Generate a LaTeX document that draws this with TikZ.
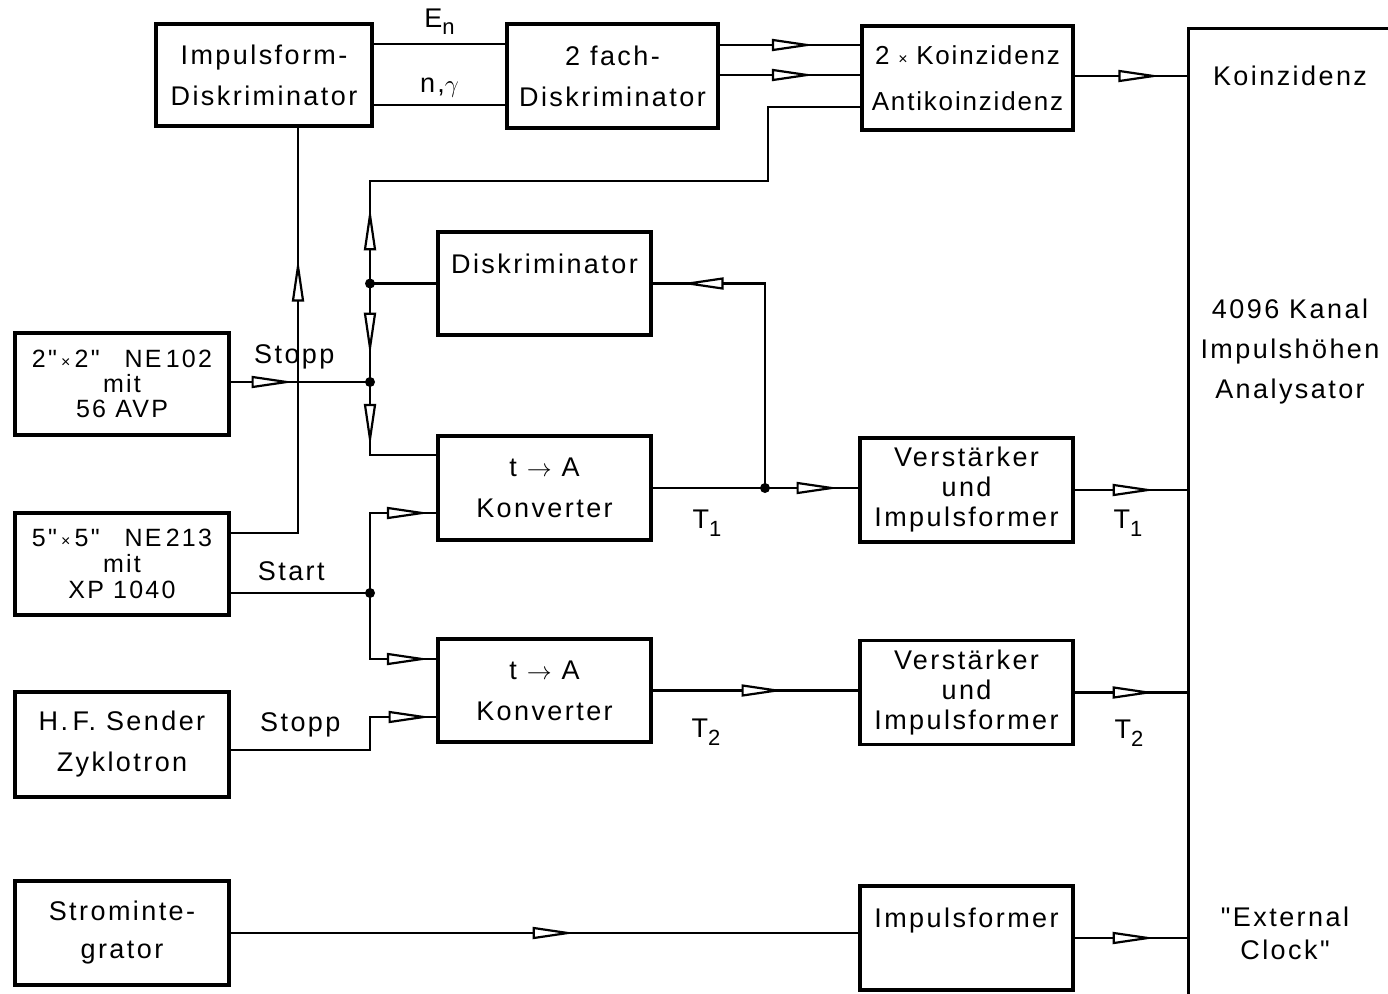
\documentclass[tikz,border=0pt]{standalone}
\usepackage{fontspec}
\setmainfont{Liberation Sans}[LetterSpace=9, Ligatures=TeXOff]
\usetikzlibrary{decorations.markings}
\begin{document}
\begin{tikzpicture}[x=1pt,y=-1pt,
  box/.style={draw, line width=3.2pt, inner sep=0pt, align=center, minimum width=213pt, minimum height=104pt},
  conn/.style={line width=2.2pt},
  lbl/.style={inner sep=0pt},
  midarr/.style={postaction={decorate}, decoration={markings, mark=at position #1 with {\draw[line width=2.2pt, fill=white, line join=miter] (-17pt,-5pt) -- (17pt,0pt) -- (-17pt,5pt) -- cycle;}}},
  font=\fontsize{27}{41}\selectfont]
\useasboundingbox (0,0) rectangle (1388,993);

% boxes
\node[box, minimum width=216pt, minimum height=102pt] (ipd) at (264,75) {Impulsform-\\Diskriminator};
\node[box, minimum width=211pt] (zfd) at (612.5,76) {2 fach-\\Diskriminator};
\node[box, minimum width=211pt, font=\fontsize{26}{46}\selectfont\addfontfeature{LetterSpace=7}] (koin) at (967.5,78) {2\,\,{\fontsize{16}{16}\selectfont ×}\,\,Koinzidenz\\Antikoinzidenz};
\node[box, minimum height=103pt] (disk) at (544.5,283.5) {\smash{\raisebox{10pt}{Diskriminator}}};
\node[box, minimum width=214pt, minimum height=102pt, font=\fontsize{25}{25}\selectfont] (ne102) at (122,384) {2"\,{\fontsize{16}{16}\selectfont ×}\,2"\quad NE\,102\\mit\\56 AVP};
\node[box] (tac1) at (544.5,488) {t $\rightarrow$ A\\Konverter};
\node[box, font=\fontsize{27}{30}\selectfont] (ver1) at (966.5,490) {Verstärker\\und\\Impulsformer};
\node[box, minimum width=214pt, minimum height=102pt, font=\fontsize{25}{26}\selectfont] (ne213) at (122,564) {5"\,{\fontsize{16}{16}\selectfont ×}\,5"\quad NE\,213\\mit\\XP 1040};
\node[box, minimum height=103pt] (tac2) at (544.5,690.5) {t $\rightarrow$ A\\Konverter};
\node[box, font=\fontsize{27}{30}\selectfont] (ver2) at (966.5,692.5) {Verstärker\\und\\Impulsformer};
\node[box, minimum width=214pt, minimum height=105pt] (hf) at (122,744.5) {H.\,F. Sender\\Zyklotron};
\node[box, minimum width=214pt, font=\fontsize{27}{38}\selectfont] (strom) at (122,933) {Strominte-\\grator};
\node[box] (impf) at (966.5,938) {\smash{\raisebox{11pt}{Impulsformer}}};
\node[draw, line width=3.2pt, anchor=north west, minimum width=260pt, minimum height=1000pt, inner sep=0pt] (ana) at (1187,27) {};

% texts in the analyser
\node[lbl] (tk) at (1290,76) {Koinzidenz};
\node[lbl, align=center, font=\fontsize{27}{40}\selectfont] (tana) at (1290,352) {4096 Kanal\\Impulshöhen\\Analysator};
\node[lbl, align=center, font=\fontsize{27}{33}\selectfont] (tclk) at (1285,933) {"External\\Clock"};

% junctions
\coordinate (cA) at (370,0);
\coordinate (cB) at (298,0);
\coordinate (cC) at (768,0);
\coordinate (j1) at (370,283.5);
\coordinate (j2) at (370,382);
\coordinate (j3) at (370,593);
\coordinate (j4) at (765,488);

% top
\draw[conn] (ipd.east|-0,44) -- node[lbl, above=8pt]{E{\fontsize{22}{22}\selectfont\raisebox{-7pt}{n}}} (zfd.west|-0,44);
\draw[conn] (ipd.east|-0,105) -- node[lbl, above=7pt]{n,$\gamma$} (zfd.west|-0,105);
\draw[conn, midarr=0.5] (zfd.east|-0,45) -- (koin.west|-0,45);
\draw[conn, midarr=0.5] (zfd.east|-0,75) -- (koin.west|-0,75);
\draw[conn, midarr=0.55] (koin.east|-0,76) -- (ana.west|-0,76);

% feedback column
\draw[conn] (koin.west|-0,107) -| (cC|-0,181) -- (cA|-0,181) -- (j1);
\draw[conn, midarr=0.5] (j1) -- (cA|-0,181);
\draw[conn] (disk.west) -- (j1);
\draw[conn, midarr=0.48] (j1) -- (j2);
\draw[conn, midarr=40pt] (j2) |- (tac1.west|-0,455);
\draw[conn, midarr=39pt] (ne102.east|-j2) -- node[lbl, above=12pt, xshift=-6pt]{Stopp} (j2);

% NE213 to Impulsform-Diskriminator
\draw[conn, midarr=317pt] (ne213.east|-0,533) -| (ipd.south-|cB);

% Start
\draw[conn] (ne213.east|-j3) -- node[lbl, above=11pt, xshift=-9pt]{Start} (j3);
\draw[conn, midarr=115pt] (j3) |- (tac1.west|-0,513);
\draw[conn, midarr=101pt] (j3) |- (tac2.west|-0,659);

% HF Stopp
\draw[conn, midarr=209pt] (hf.east|-0,750) -| node[lbl, pos=0.25, above=12pt]{Stopp} (cA|-0,717) -- (tac2.west|-0,717);

% T1 line
\draw[conn, midarr=162pt] (tac1.east) -- (ver1.west|-tac1.east);
\draw[conn, midarr=264pt] (j4) |- (disk.east);
\node[lbl] (lt1a) at (707,523) {T{\fontsize{22}{22}\selectfont\raisebox{-8pt}{1}}};
\draw[conn, midarr=0.5] (ver1.east) -- (ver1.east-|ana.west);
\node[lbl] (lt1b) at (1128,523) {T{\fontsize{22}{22}\selectfont\raisebox{-8pt}{1}}};

% T2 line
\draw[conn, midarr=0.52] (tac2.east) -- (ver2.west|-tac2.east);
\node[lbl] (lt2a) at (706,732) {T{\fontsize{22}{22}\selectfont\raisebox{-8pt}{2}}};
\draw[conn, midarr=0.5] (ver2.east) -- (ver2.east-|ana.west);
\node[lbl] (lt2b) at (1129,733) {T{\fontsize{22}{22}\selectfont\raisebox{-8pt}{2}}};

% clock
\draw[conn, midarr=0.51] (strom.east) -- (impf.west|-strom.east);
\draw[conn, midarr=0.5] (impf.east) -- (impf.east-|ana.west);

% dots
\fill (j1) circle (5pt);
\fill (j2) circle (5pt);
\fill (j3) circle (5pt);
\fill (j4) circle (5pt);
\end{tikzpicture}
\end{document}
